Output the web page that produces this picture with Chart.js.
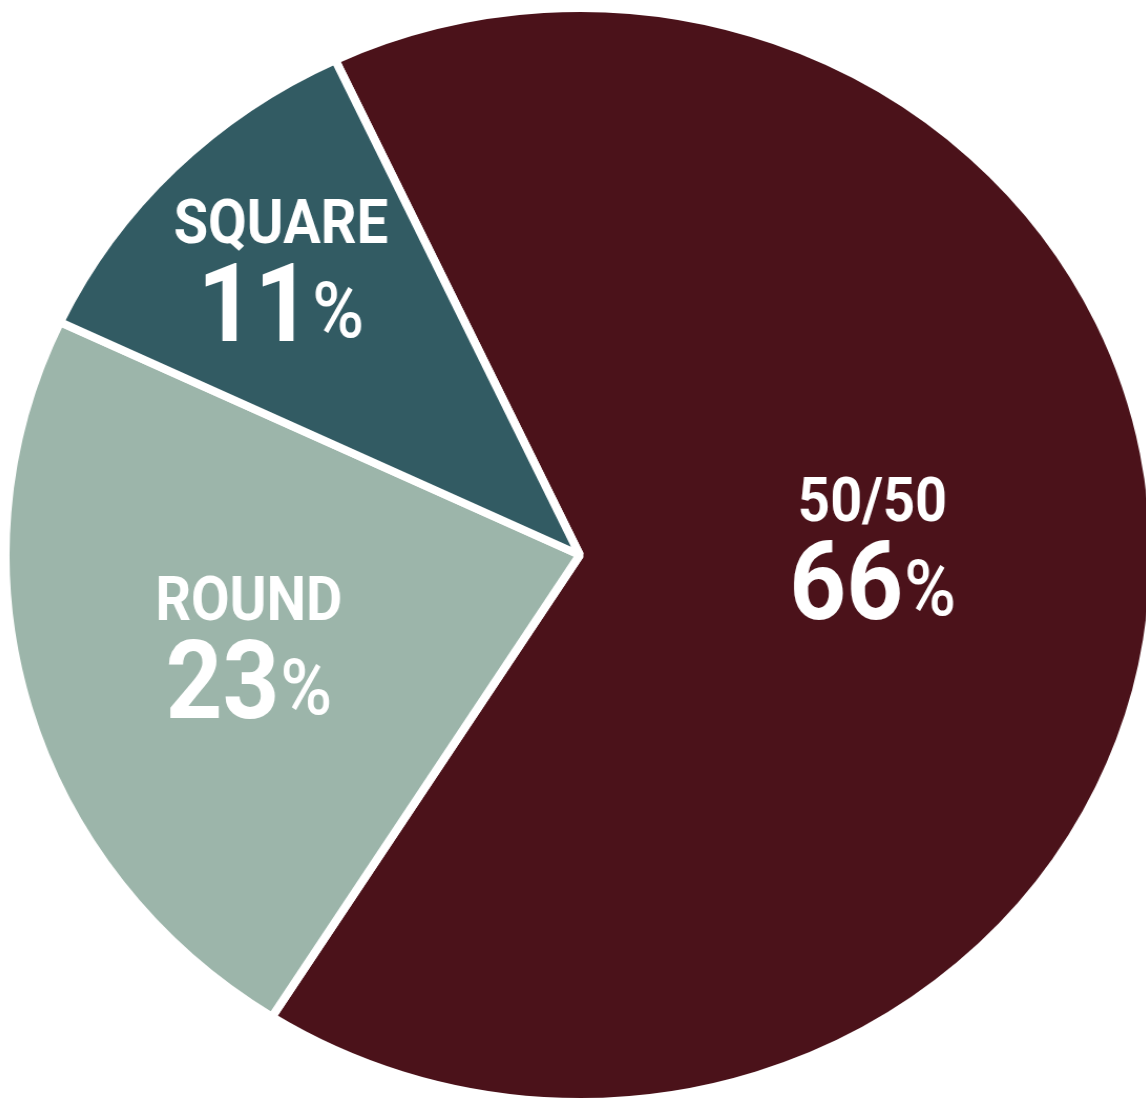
<!DOCTYPE html>
<html>
<head>
<meta charset="utf-8">
<title>Shape preference</title>
<script src="https://cdn.jsdelivr.net/npm/chart.js@4.4.1/dist/chart.umd.min.js"></script>
<style>
html, body { margin: 0; padding: 0; background: #fff; overflow: hidden; width: 1146px; height: 1103px; }
#wrap { position: absolute; left: -2.75px; top: 0; width: 1110px; height: 1110px; transform-origin: 0 0; transform: scaleX(1.05); }
</style>
</head>
<body>
<div id="wrap"><canvas id="pieChart"></canvas></div>
<script>
"use strict";

// data
const categories = ["50/50", "ROUND", "SQUARE"];
const shares = [66, 23, 11];
const sliceColors = ["#4b121a", "#9cb5aa", "#325b63"];

// where each label block sits: fraction of the radius, nudge of the angle (deg)
const labelAnchors = [[0.51, -5], [0.60, 0], [0.736, 0]];

// white name + big percentage drawn inside each slice
const sliceLabels = {
	id: 'sliceLabels',
	afterDatasetsDraw(chart) {
		const ctx = chart.ctx;
		const meta = chart.getDatasetMeta(0);
		meta.data.forEach((arc, i) => {
			const p = arc.getProps(['x', 'y', 'startAngle', 'endAngle', 'outerRadius'], true);
			const [frac, nudge] = labelAnchors[i];
			const mid = (p.startAngle + p.endAngle) / 2 + nudge * Math.PI / 180;
			const cx = p.x + Math.cos(mid) * p.outerRadius * frac;
			const cy = p.y + Math.sin(mid) * p.outerRadius * frac;

			ctx.save();
			ctx.fillStyle = '#ffffff';
			ctx.textBaseline = 'alphabetic';
			ctx.textAlign = 'left';
			ctx.translate(cx, cy);
			ctx.scale(0.86, 1); // narrower letters

			ctx.font = 'bold 62px Roboto';
			const nameW = ctx.measureText(categories[i]).width;
			ctx.fillText(categories[i], -nameW / 2, -27);

			const num = String(shares[i]);
			ctx.font = 'bold 110px Roboto';
			const numW = ctx.measureText(num).width;
			ctx.font = '500 78px Roboto';
			const pctW = ctx.measureText('%').width;
			const gap = 1;
			const left = -(numW + gap + pctW) / 2;

			ctx.font = 'bold 110px Roboto';
			ctx.fillText(num, left, 71);
			ctx.font = '500 78px Roboto';
			ctx.fillText('%', left + numW + gap, 67);
			ctx.restore();
		});
	}
};

let chart = new Chart(document.querySelector('#pieChart'), {
	type: 'pie',
	data: {
		labels: categories,
		datasets: [{
			data: shares,
			backgroundColor: sliceColors,
			borderColor: '#ffffff',
			borderWidth: 8
		}]
	},
	options: {
		responsive: true,
		maintainAspectRatio: false,
		animation: false,
		rotation: -25.2,
		radius: 547,
		layout: { padding: 0 },
		plugins: {
			legend: { display: false },
			tooltip: { enabled: false }
		}
	},
	plugins: [sliceLabels]
});
</script>
</body>
</html>
